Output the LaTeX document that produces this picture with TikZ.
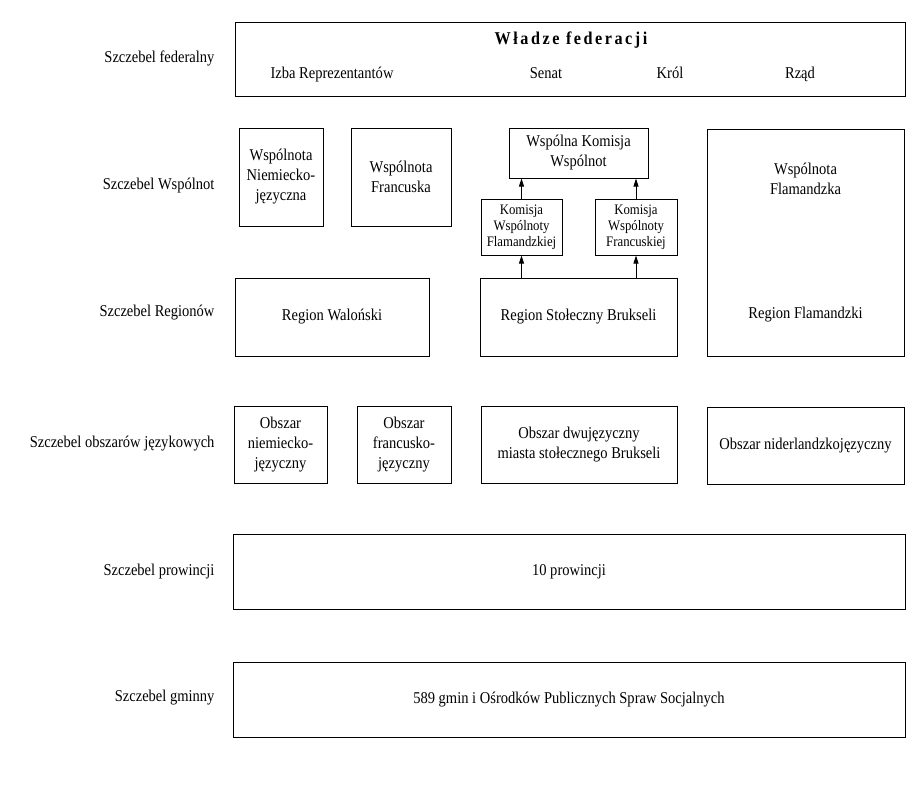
\documentclass[tikz,border=0pt]{standalone}
\usepackage{fontspec}
\setmainfont{Liberation Serif}[FakeStretch=0.88]
\newfontfamily\titlefont{Liberation Serif}[FakeStretch=0.9,LetterSpace=14]
\usetikzlibrary{arrows.meta}

\tikzset{
    box/.style={draw, line width=1pt, inner sep=0pt, align=center},
    level/.style={anchor=east},
    organ/.style={anchor=base},
    smalltxt/.style={font=\fontsize{14.5}{16}\selectfont},
    up/.style={-{Triangle[length=8pt,width=5pt]}, line width=0.9pt}
}

\begin{document}
\begin{tikzpicture}[x=1pt,y=-1pt,font=\fontsize{16.5}{20}\selectfont]
        \useasboundingbox (0,0) rectangle (910,806);

        % szczeble
        \node[level] (lfed) at (218,58) {Szczebel federalny};
        \node[level] (lwsp) at (218,186) {Szczebel Wspólnot};
        \node[level] (lreg) at (218,313) {Szczebel Regionów};
        \node[level] (ljez) at (218,444) {Szczebel obszarów językowych};
        \node[level] (lprow) at (218,572) {Szczebel prowincji};
        \node[level] (lgmin) at (218,698) {Szczebel gminny};

        % federacja
        \node[box, minimum width=670, minimum height=74] (fed) at (570,59) {};
        \node (tfed) at (571,40) {\titlefont\fontsize{18}{20}\selectfont\bfseries Władze federacji};
        \node[organ] (izba) at (332,78) {Izba Reprezentantów};
        \node[organ] (senat) at (546,78) {Senat};
        \node[organ] (krol) at (670,78) {Król};
        \node[organ] (rzad) at (800,78) {Rząd};

        % wspolnoty
        \node[box, minimum width=84, minimum height=98] (wniem) at (281,177) {Wspólnota\\Niemiecko-\\języczna};
        \node[box, minimum width=100, minimum height=98] (wfran) at (401,177) {Wspólnota\\Francuska};
        \node[box, minimum width=139, minimum height=50] (wkom) at (578.5,153) {Wspólna Komisja\\Wspólnot};
        \node[box, smalltxt, minimum width=81, minimum height=56] (kflam) at (521.5,227) {Komisja\\Wspólnoty\\Flamandzkiej};
        \node[box, smalltxt, minimum width=82, minimum height=56] (kfran) at (636,227) {Komisja\\Wspólnoty\\Francuskiej};
        \node[box, minimum width=197, minimum height=227] (flam) at (805.5,242.5) {};
        \node[align=center] (wflam) at (805.5,179) {Wspólnota\\Flamandzka};
        \node (rflam) at (805.5,315) {Region Flamandzki};

        % regiony
        \node[box, minimum width=194, minimum height=78] (rwal) at (332,317) {Region Waloński};
        \node[box, minimum width=197, minimum height=78] (rbru) at (578.5,317) {Region Stołeczny Brukseli};

        \draw[up] (rbru.north -| kflam) -- (kflam.south);
        \draw[up] (rbru.north -| kfran) -- (kfran.south);
        \draw[up] (kflam.north) -- (kflam.north |- wkom.south);
        \draw[up] (kfran.north) -- (kfran.north |- wkom.south);

        % obszary jezykowe
        \node[box, minimum width=93, minimum height=77] (oniem) at (280.5,444.5) {Obszar\\niemiecko-\\języczny};
        \node[box, minimum width=94, minimum height=77] (ofran) at (404,444.5) {Obszar\\francusko-\\języczny};
        \node[box, minimum width=196, minimum height=77] (odwu) at (579,445) {Obszar dwujęzyczny\\miasta stołecznego Brukseli};
        \node[box, minimum width=197, minimum height=77] (onid) at (805.5,445.5) {Obszar niderlandzkojęzyczny};

        % prowincje, gminy
        \node[box, minimum width=672, minimum height=75] (prow) at (569,571.5) {10 prowincji};
        \node[box, minimum width=672, minimum height=75] (gmin) at (569,699.5) {589 gmin i Ośrodków Publicznych Spraw Socjalnych};
    \end{tikzpicture}
\end{document}
